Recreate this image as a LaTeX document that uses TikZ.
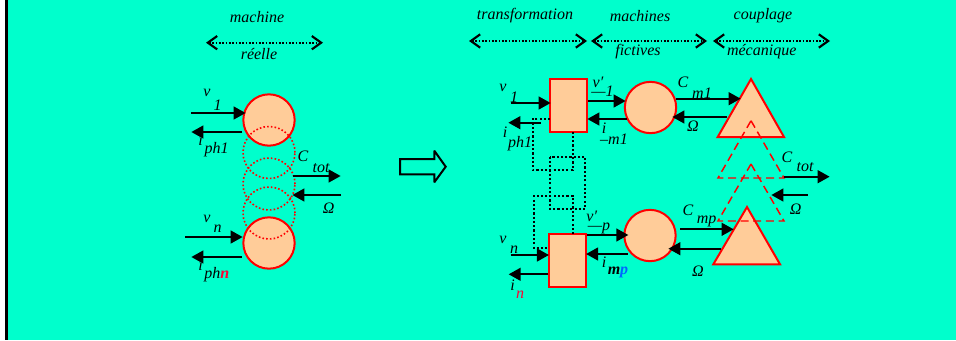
\documentclass[tikz,border=0pt]{standalone}
\usepackage{fontspec}
\setmainfont{Liberation Serif}
\usetikzlibrary{arrows.meta}
\definecolor{bgc}{HTML}{00FFCC}
\definecolor{fillc}{HTML}{FFCC99}
\definecolor{redc}{HTML}{FF0000}
\definecolor{bluec}{HTML}{0066FF}
\definecolor{redn}{HTML}{FF0033}
\tikzset{
  x=0.75pt,y=-0.75pt,
  lab/.style={inner sep=0pt,outer sep=0pt,font=\fontsize{12pt}{14pt}\selectfont\itshape},
  flow/.style={line width=1.7pt,-{Triangle[length=9pt,width=9.5pt]},shorten >=-0.5pt},
  span/.style={line width=1.2pt,dash pattern=on 1.2pt off 1.3pt,{Straight Barb[length=7pt,width=10pt,line width=1.6pt]}-{Straight Barb[length=7pt,width=10pt,line width=1.6pt]}},
  wire/.style={line width=1.6pt,dash pattern=on 1.6pt off 1.6pt},
  mach/.style={circle,draw=redc,fill=fillc,line width=1.5pt,minimum size=38.5pt,inner sep=0pt,outer sep=0pt},
  ghost/.style={circle,draw=redc,line width=1.2pt,dash pattern=on 1.2pt off 1.6pt,minimum size=39pt,inner sep=0pt},
  conv/.style={rectangle,draw=redc,fill=fillc,line width=1.5pt,minimum width=27.5pt,minimum height=39.5pt,inner sep=0pt,outer sep=0pt},
  solidtri/.style={draw=redc,fill=fillc,line width=1.5pt,line join=miter},
  dashtri/.style={draw=redc,line width=1.1pt,dash pattern=on 6pt off 3.5pt},
}
\newcommand{\flowline}[3]{\coordinate (#1a) at #2; \coordinate (#1b) at #3; \draw[flow] (#1a) -- (#1b);}
\newcommand{\spanline}[3]{\coordinate (#1a) at #2; \coordinate (#1b) at #3; \draw[span] (#1a) -- (#1b);}
\begin{document}
\begin{tikzpicture}
\useasboundingbox (0,0) rectangle (956,340);
\fill[bgc] (0,0) rectangle (956,340);
\fill[white] (0,0) rectangle (5,340);
\fill[black] (5,0) rectangle (8,340);

% left machine
\node[mach] (L1) at (269,120) {};
\node[mach] (Ln) at (269,243) {};
\node[ghost] (G1) at (269,152.5) {};
\node[ghost] (G2) at (269,184) {};
\node[ghost] (G3) at (269,213) {};

% right blocks
\node[conv] (R1) at (568.5,105.5) {};
\node[conv] (Rn) at (567.5,260.5) {};
\node[mach] (M1) at (650.5,107.5) {};
\node[mach] (Mp) at (650,235.5) {};
\draw[solidtri] (751,79) coordinate (T1) -- (784,137) -- (717.7,137) -- cycle;
\draw[solidtri] (747,207) coordinate (Tp) -- (780,264.3) -- (713.3,264.3) -- cycle;

% dotted links
\coordinate (w1) at (532.7,118.7);
\coordinate (w2) at (532.7,170);
\coordinate (w3) at (572.7,170);
\coordinate (w4) at (572.7,195.7);
\coordinate (w5) at (534,195.7);
\coordinate (w6) at (534,248.3);
\draw[wire] (R1.west |- w1) -- (w1) -- (w2) -- (w3) -- (R1.south -| w3);
\draw[wire] (550,156.7) rectangle (585.3,209);
\draw[wire] (Rn.north -| w4) -- (w4) -- (w5) -- (w6) -- (Rn.west |- w6);

% ghost triangles
\draw[dashtri] (751,120.7) -- (784,178) -- (718,178) -- cycle;
\draw[dashtri] (751,164) -- (784,221) -- (718,221) -- cycle;

% flows, left
\flowline{a}{(191,113)}{(245,113)}
\flowline{b}{(242,132)}{(192,132)}
\flowline{c}{(293,176)}{(340,176)}
\flowline{d}{(341,195)}{(293,195)}
\flowline{e}{(185,237)}{(242,237)}
\flowline{f}{(242,257)}{(192,257)}
% flows, right
\flowline{g}{(510.7,103)}{(550,103)}
\flowline{h}{(540.7,122.7)}{(509,122.7)}
\flowline{i}{(588,101)}{(625,101)}
\flowline{j}{(626.7,119)}{(588,119)}
\flowline{k}{(676,98.7)}{(740,98.7)}
\flowline{l}{(727,117)}{(673,117)}
\flowline{m}{(784,176.7)}{(829,176.7)}
\flowline{n}{(807.7,195)}{(772,195)}
\flowline{o}{(680,229.3)}{(733,229.3)}
\flowline{p}{(720.7,248.7)}{(669,248.7)}
\flowline{q}{(586.7,235)}{(627.7,235)}
\flowline{r}{(627.7,254)}{(586.7,254)}
\flowline{s}{(510.7,255)}{(548.3,255)}
\flowline{t}{(548.3,274.3)}{(509.3,274.3)}

% spans
\spanline{u}{(206,42.7)}{(323,42.7)}
\spanline{v}{(469,41)}{(587,41)}
\spanline{w}{(591,41)}{(707,41)}
\spanline{x}{(713,41)}{(830,41)}

% hollow arrow
\draw[black,line width=1.5pt,line join=miter,miter limit=2] (400,159) coordinate (H) -- (434.3,159) -- (434.3,150.7) -- (445.7,166.7) -- (434.3,182.3) -- (434.3,174.3) -- (400,174.3) -- cycle;

% labels
\node[lab] (t1) at (257,17) {machine};
\node[lab] (t2) at (259,54) {réelle};
\node[lab] (t3) at (525,16) {transformation};
\node[lab] (t4) at (640,16) {machines};
\node[lab] (t5) at (638,52) {fictives};
\node[lab] (t6) at (763,16) {couplage};
\node[lab] (t7) at (761.7,52) {mécanique};

\node[lab] (a1) at (207,93) {v};
\node[lab] (a2) at (217.7,105) {1};
\node[lab] (a3) at (200.7,140) {i};
\node[lab] (a4) at (216.7,150) {ph1};
\node[lab] (a5) at (303,156) {C};
\node[lab] (a6) at (321,167.7) {tot};
\node[lab] (a7) at (328.7,208) {Ω};
\node[lab] (a8) at (207,219) {v};
\node[lab] (a9) at (217.7,229) {n};
\node[lab] (a10) at (200.7,265) {i};
\node[lab] (a11) at (216.7,275) {ph\textbf{\textcolor{redn}{n}}};

\node[lab] (b1) at (503,88) {v};
\node[lab] (b2) at (514,97.7) {1};
\node[lab] (b3) at (505,132) {i};
\node[lab] (b4) at (520,144) {ph1};
\node[lab] (b5) at (598,82) {v′};
\node[lab] (b6) at (602.5,91) {—1};
\node[lab] (b7) at (604,128) {i};
\node[lab] (b8) at (614,139) {–m1};
\node[lab] (b9) at (683,82) {C};
\node[lab] (b10) at (702,93) {m1};
\node[lab] (b11) at (693,126) {Ω};
\node[lab] (b12) at (787,157) {C};
\node[lab] (b13) at (805,167) {tot};
\node[lab] (b14) at (795.7,209) {Ω};
\node[lab] (b15) at (688,210) {C};
\node[lab] (b16) at (706.7,221.7) {mp};
\node[lab] (b17) at (698,270.7) {Ω};
\node[lab] (b18) at (591.7,216.7) {v′};
\node[lab] (b19) at (599,228) {—p};
\node[lab] (b20) at (604,261.7) {i};
\node[lab] (b21) at (618,272) {\textbf{m\textcolor{bluec}{p}}};
\node[lab] (b22) at (503,240) {v};
\node[lab] (b23) at (514,250) {n};
\node[lab] (b24) at (512.7,285) {i};
\node[lab] (b25) at (520,295) {\textcolor{redn}{n}};
\end{tikzpicture}
\end{document}
